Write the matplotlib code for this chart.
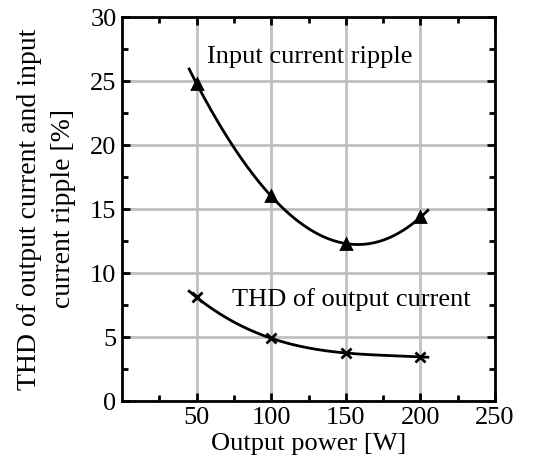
import numpy as np
import matplotlib
matplotlib.use("Agg")
import matplotlib.pyplot as plt

power = [50, 100, 150, 200]
ripple = [24.8, 16.0, 12.3, 14.35]
thd = [8.1, 4.9, 3.75, 3.45]
xticks = [50, 100, 150, 200, 250]
yticks = [0, 5, 10, 15, 20, 25, 30]

plt.rcParams['font.family'] = ['Liberation Serif']
plt.rcParams['mathtext.fontset'] = 'stix'
fs = 19

fig = plt.figure(figsize=(5.37, 4.68), dpi=100)
ax = fig.add_axes([122/537, 1-401/468, (495-122)/537, (401-17)/468])

xs = np.linspace(45, 205, 200)
for y, m, ms in [(ripple, '^', 7), (thd, 'x', 7)]:
    c = np.polyfit(power, y, 3)
    ax.plot(xs, np.polyval(c, xs), color='black', lw=2)
    ax.plot(power, y, linestyle='none', marker=m, color='black', ms=ms, mew=2)

ax.set_xlim(0, 250)
ax.set_ylim(0, 30)
ax.set_xticks(xticks)
ax.set_yticks(yticks)
ax.set_xticks([25, 75, 125, 175, 225], minor=True)
ax.set_yticks([2.5, 7.5, 12.5, 17.5, 22.5, 27.5], minor=True)
ax.grid(True, which='major', color='#c0c0c0', lw=2)
ax.set_axisbelow(True)
ax.tick_params(which='both', direction='in', top=True, right=True, width=2, labelsize=fs, colors='black')
ax.tick_params(which='major', length=6, pad=4)
ax.tick_params(which='minor', length=4)
for s in ax.spines.values():
    s.set_linewidth(2)

ax.text(57, 26.9, 'Input current ripple', fontsize=fs, va='center', ha='left')
ax.text(73.5, 7.9, 'THD of output current', fontsize=fs, va='center', ha='left')
ax.set_xlabel('Output power [W]', fontsize=fs, labelpad=3)
ax.set_ylabel('THD of output current and input\ncurrent ripple [%]', fontsize=20, labelpad=10, linespacing=1.5)

fig.savefig('out.png', dpi=100)
